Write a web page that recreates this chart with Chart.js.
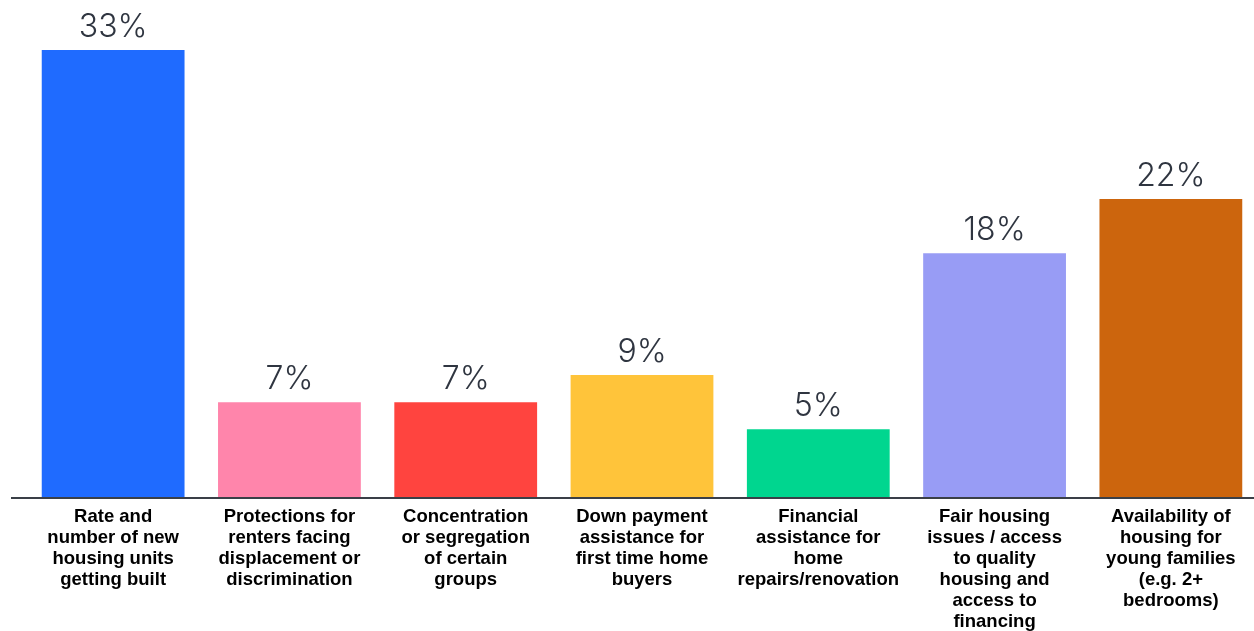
<!DOCTYPE html>
<html>
<head>
<meta charset="utf-8">
<script src="https://cdn.jsdelivr.net/npm/chart.js@4/dist/chart.umd.min.js"></script>
<style>
  html, body { margin: 0; padding: 0; background: #fff; overflow: hidden; }
  #wrap { position: relative; width: 1260px; height: 631px; }
</style>
</head>
<body>
<div id="wrap"><canvas id="housing-chart"></canvas></div>
<script>
// category labels, split into lines the same way as the original
const categories = [
  ['Rate and', 'number of new', 'housing units', 'getting built'],
  ['Protections for', 'renters facing', 'displacement or', 'discrimination'],
  ['Concentration', 'or segregation', 'of certain', 'groups'],
  ['Down payment', 'assistance for', 'first time home', 'buyers'],
  ['Financial', 'assistance for', 'home', 'repairs/renovation'],
  ['Fair housing', 'issues / access', 'to quality', 'housing and', 'access to', 'financing'],
  ['Availability of', 'housing for', 'young families', '(e.g. 2+', 'bedrooms)'],
];

// percent of respondents
const shares = [33, 7, 7, 9, 5, 18, 22];

const barColors = ['#1f6bff', '#ff85ab', '#ff443f', '#ffc43a', '#00d68f', '#989cf5', '#cc650d'];

// draws the "33%" style labels above each bar
const valueLabels = {
  id: 'valueLabels',
  afterDatasetsDraw(chart) {
    const ctx = chart.ctx;
    const meta = chart.getDatasetMeta(0);
    ctx.save();
    ctx.font = '300 32px Inter';
    ctx.fillStyle = '#2f3540';
    ctx.textAlign = 'center';
    ctx.textBaseline = 'alphabetic';
    meta.data.forEach((bar, i) => {
      ctx.fillText(shares[i] + '%', bar.x, bar.y - 13);
    });
    ctx.restore();
  },
};

// the dark baseline under the bars, runs a bit past the first bar
const baseLine = {
  id: 'baseLine',
  afterDatasetsDraw(chart) {
    const ctx = chart.ctx;
    const y = chart.scales.y.getPixelForValue(0);
    ctx.save();
    ctx.strokeStyle = '#3a3f47';
    ctx.lineWidth = 2;
    ctx.beginPath();
    ctx.moveTo(11, y + 1);
    ctx.lineTo(chart.width, y + 1);
    ctx.stroke();
    ctx.restore();
  },
};

const config = {
  type: 'bar',
  data: {
    labels: categories,
    datasets: [
      {
        data: shares,
        backgroundColor: barColors,
        borderWidth: 0,
        barPercentage: 0.81,
        categoryPercentage: 1,
      },
    ],
  },
  options: {
    responsive: true,
    maintainAspectRatio: false,
    animation: false,
    layout: {
      padding: { left: 25, right: 1, top: 50, bottom: 0 },
    },
    scales: {
      y: {
        display: false,
        min: 0,
        max: 33,
      },
      x: {
        grid: { display: false },
        border: { display: false },
        afterFit: scale => {
          scale.height = 134; // keep the plot bottom at the same place as the original
        },
        ticks: {
          color: '#000',
          padding: 1,
          maxRotation: 0,
          autoSkip: false,
          font: { family: 'Liberation Sans, Arial', size: 18.5, weight: 'bold', lineHeight: 1.14 },
        },
      },
    },
    plugins: {
      legend: { display: false },
      tooltip: { enabled: false },
    },
  },
  plugins: [valueLabels, baseLine],
};

new Chart(document.querySelector('#housing-chart'), config);
</script>
</body>
</html>
